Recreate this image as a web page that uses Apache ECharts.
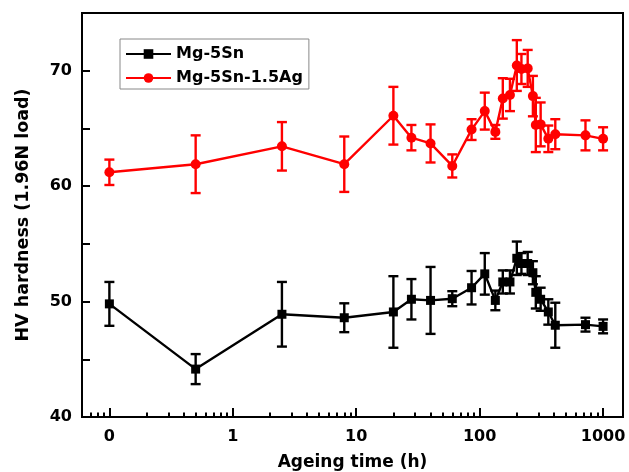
<!DOCTYPE html>
<html>
<head>
<meta charset="utf-8">
<script src="https://cdn.jsdelivr.net/npm/echarts@6/dist/echarts.min.js"></script>
<style>html,body{margin:0;padding:0;background:#fff}#c{width:629px;height:472px}</style>
</head>
<body>
<div id="c"></div>
<script>
// Ageing times (h); 0 h is plotted at 0.1 on the log axis and labelled "0"
const times = [0.1, 0.5, 2.5, 8, 20, 28, 40, 60, 86, 110, 134, 154, 176, 200, 218, 245, 270, 285, 312, 360, 410, 720, 1000];
const agValues = [61.2, 61.9, 63.45, 61.9, 66.1, 64.2, 63.7, 61.75, 64.9, 66.5, 64.7, 67.6, 67.9, 70.45, 70.15, 70.2, 67.8, 65.3, 65.35, 64.1, 64.5, 64.4, 64.1];
const agErrors = [1.1, 2.5, 2.1, 2.4, 2.5, 1.1, 1.65, 1.0, 0.9, 1.6, 0.6, 1.75, 1.4, 2.2, 1.3, 1.6, 1.75, 2.35, 1.9, 1.15, 1.3, 1.3, 1.0];
const snValues = [49.8, 44.15, 48.9, 48.6, 49.1, 50.2, 50.1, 50.25, 51.2, 52.4, 50.1, 51.7, 51.7, 53.75, 53.3, 53.3, 52.5, 50.8, 50.2, 49.1, 47.95, 48.0, 47.85];
const snErrors = [1.9, 1.3, 2.8, 1.25, 3.1, 1.75, 2.9, 0.65, 1.45, 1.8, 0.85, 1.0, 1.0, 1.45, 0.9, 1.0, 1.0, 1.4, 1.0, 1.1, 1.95, 0.6, 0.6];
const xTickLabels = {0.1: '0', 1: '1', 10: '10', 100: '100', 1000: '1000'};
const yTickLabels = [40, 50, 60, 70];
const minorTickValues = [0.07, 0.08, 0.09, 0.2, 0.3, 0.4, 0.5, 0.6, 0.7, 0.8, 0.9, 2, 3, 4, 5, 6, 7, 8, 9, 20, 30, 40, 50, 60, 70, 80, 90, 200, 300, 400, 500, 600, 700, 800, 900];
const xMin = 0.06, xMax = 1450;

const FONT = 'DejaVu Sans';
const chart = echarts.init(document.getElementById('c'));

function errSeries(name, vals, errs, color) {
  return {
    type: 'custom', name: name + ' err', xAxisIndex: 0, yAxisIndex: 0, z: 1,
    data: times.map((t, i) => [t, vals[i], errs[i]]),
    encode: {x: 0, y: 1},
    renderItem: function (params, api) {
      const x = api.value(0), y = api.value(1), e = api.value(2);
      const top = api.coord([x, y + e]);
      const bot = api.coord([x, y - e]);
      const hw = 5;
      const st = {stroke: color, lineWidth: 2.4};
      return {type: 'group', children: [
        {type: 'line', shape: {x1: top[0], y1: top[1], x2: bot[0], y2: bot[1]}, style: st},
        {type: 'line', shape: {x1: top[0] - hw, y1: top[1], x2: top[0] + hw, y2: top[1]}, style: st},
        {type: 'line', shape: {x1: bot[0] - hw, y1: bot[1], x2: bot[0] + hw, y2: bot[1]}, style: st}
      ]};
    }
  };
}

chart.setOption({
  animation: false,
  backgroundColor: '#fff',
  grid: {left: 82, top: 13, width: 541, height: 404, outerBoundsMode: 'none', containLabel: false,
    show: true, borderColor: '#000', borderWidth: 2, backgroundColor: 'transparent'},
  legend: {
    left: 120, top: 39, orient: 'vertical',
    data: ['Mg-5Sn', 'Mg-5Sn-1.5Ag'],
    itemWidth: 45, itemHeight: 12, itemGap: 8,
    padding: [7, 6, 3, 5],
    borderColor: '#888', borderWidth: 1,
    textStyle: {fontFamily: FONT, fontWeight: 'bold', fontSize: 16, color: '#000'}
  },
  xAxis: [{
    type: 'log', min: xMin, max: xMax, logBase: 10,
    name: 'Ageing time (h)', nameLocation: 'middle', nameGap: 37,
    nameTextStyle: {fontFamily: FONT, fontWeight: 'bold', fontSize: 17, color: '#000'},
    axisLine: {onZero: false, lineStyle: {color: '#000', width: 2}},
    axisTick: {inside: true, length: 9, lineStyle: {color: '#000', width: 2}},
    axisLabel: {
      margin: 12, showMinLabel: false, showMaxLabel: false,
      fontFamily: FONT, fontWeight: 'bold', fontSize: 16, color: '#000',
      formatter: function (v) {
        for (const k in xTickLabels) { if (Math.abs(Math.log10(v) - Math.log10(+k)) < 1e-6) return xTickLabels[k]; }
        return '';
      }
    },
    splitLine: {show: false}
  }, {
    type: 'value', position: 'bottom', min: Math.log10(xMin), max: Math.log10(xMax),
    axisLine: {show: false, onZero: false},
    axisLabel: {show: false},
    splitLine: {show: false},
    axisTick: {show: true, inside: true, length: 4.5, lineStyle: {color: '#000', width: 2},
      customValues: minorTickValues.map(v => Math.log10(v))}
  }],
  yAxis: {
    type: 'value', min: 40, max: 75, interval: 5, position: 'left',
    name: 'HV hardness (1.96N load)', nameLocation: 'middle', nameGap: 50, nameRotate: 90,
    nameTextStyle: {fontFamily: FONT, fontWeight: 'bold', fontSize: 17.5, color: '#000'},
    axisLine: {show: true, onZero: false, lineStyle: {color: '#000', width: 2}},
    axisTick: {inside: true, length: 8, lineStyle: {color: '#000', width: 2}},
    axisLabel: {
      margin: 10, fontFamily: FONT, fontWeight: 'bold', fontSize: 16, color: '#000',
      formatter: function (v) { return yTickLabels.indexOf(v) >= 0 ? String(v) : ''; }
    },
    splitLine: {show: false}
  },
  series: [
    errSeries('Mg-5Sn', snValues, snErrors, '#000'),
    errSeries('Mg-5Sn-1.5Ag', agValues, agErrors, '#ff0000'),
    {
      type: 'line', name: 'Mg-5Sn', xAxisIndex: 0, z: 3,
      data: times.map((t, i) => [t, snValues[i]]),
      symbol: 'rect', symbolSize: 9,
      itemStyle: {color: '#000'}, lineStyle: {color: '#000', width: 2.4}
    },
    {
      type: 'line', name: 'Mg-5Sn-1.5Ag', xAxisIndex: 0, z: 3,
      data: times.map((t, i) => [t, agValues[i]]),
      symbol: 'circle', symbolSize: 10,
      itemStyle: {color: '#ff0000'}, lineStyle: {color: '#ff0000', width: 2.4}
    }
  ]
});
</script>
</body>
</html>
